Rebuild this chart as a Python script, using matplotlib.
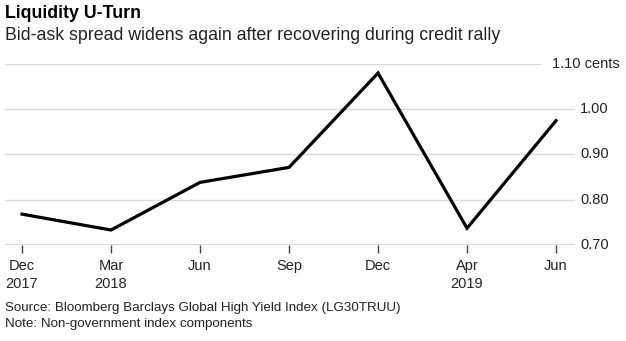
import matplotlib
matplotlib.use("Agg")
import matplotlib.pyplot as plt
import matplotlib.transforms as mtransforms

plt.rcParams['font.family'] = ['Liberation Sans', 'DejaVu Sans']

categories = ["Dec\n2017", "Mar\n2018", "Jun", "Sep", "Dec", "Apr\n2019", "Jun"]
spread = [0.768, 0.733, 0.838, 0.871, 1.079, 0.737, 0.974]
yticks = [0.70, 0.80, 0.90, 1.00, 1.10]
ytick_labels = ["0.70", "0.80", "0.90", "1.00", "1.10 cents"]

W, H = 626, 341
fig = plt.figure(figsize=(W / 100, H / 100), dpi=100)
left_px, right_px, top_px, bot_px = 5, 575, 63.5, 245
ax = fig.add_axes([left_px / W, 1 - bot_px / H, (right_px - left_px) / W, (bot_px - top_px) / H])

x = list(range(len(categories)))
ax.plot(x, spread, color="black", lw=2.3, solid_joinstyle="miter", zorder=3)

ax.set_xlim(-0.191, 6.213)
ax.set_ylim(0.70, 1.10)

# gridlines
for v in yticks[1:]:
    xmax = 1.0 if v != 1.10 else (540 - left_px) / (right_px - left_px)
    ax.axhline(v, xmin=0, xmax=xmax, color="#dcdcdc", lw=1, zorder=1)
ax.axhline(0.70, color="#444444", lw=1, zorder=2)

trans = mtransforms.blended_transform_factory(ax.transAxes, ax.transData)
for v, lab in zip(yticks, ytick_labels):
    xpos = (580 - left_px) / (right_px - left_px) if v != 1.10 else (552 - left_px) / (right_px - left_px)
    ax.text(xpos, v, lab, transform=trans, ha="left", va="center", fontsize=10.5, color="#222222")

for s in ax.spines.values():
    s.set_visible(False)
ax.set_yticks([])
ax.set_xticks(x)
ax.set_xticklabels(categories, fontsize=10.5, color="#222222", linespacing=1.4)
ax.tick_params(axis="x", length=6, width=1, color="#444444", pad=4)

fig.text(5 / W, 1 - 14 / H, "Liquidity U-Turn", fontsize=12.8, fontweight="bold", ha="left", va="center", color="black")
fig.text(5 / W, 1 - 36 / H, "Bid-ask spread widens again after recovering during credit rally",
         fontsize=12.8, ha="left", va="center", color="#222222")
fig.text(5 / W, 1 - 308 / H, "Source: Bloomberg Barclays Global High Yield Index (LG30TRUU)",
         fontsize=9.6, ha="left", va="center", color="#222222")
fig.text(5 / W, 1 - 324 / H, "Note: Non-government index components",
         fontsize=9.6, ha="left", va="center", color="#222222")

fig.savefig("out.png", dpi=100, facecolor="white")
